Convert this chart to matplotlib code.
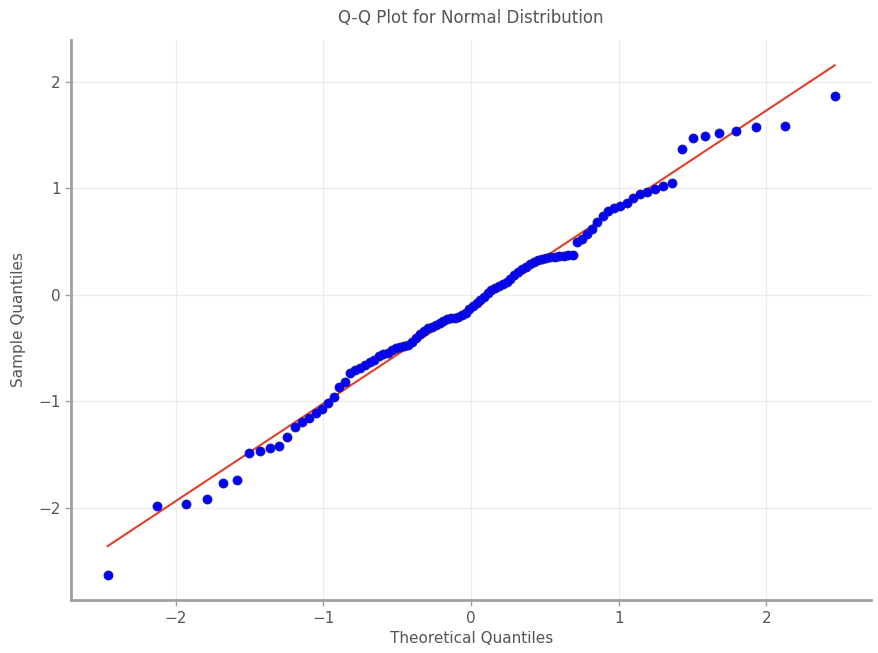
import matplotlib
matplotlib.use("Agg")
import matplotlib.pyplot as plt
import numpy as np
from statistics import NormalDist

# Sorted sample quantiles (n = 100)
sample_quantiles = [
    -2.63, -1.99, -1.97, -1.92, -1.77, -1.74, -1.49, -1.47, -1.44, -1.42,
    -1.34, -1.24, -1.20, -1.16, -1.11, -1.07, -1.02, -0.96, -0.87, -0.82,
    -0.74, -0.71, -0.69, -0.66, -0.63, -0.61, -0.58, -0.56, -0.55, -0.52,
    -0.50, -0.49, -0.48, -0.47, -0.45, -0.41, -0.37, -0.34, -0.31, -0.30,
    -0.29, -0.27, -0.25, -0.23, -0.22, -0.22, -0.21, -0.19, -0.17, -0.14,
    -0.11, -0.08, -0.05, -0.02, 0.01, 0.04, 0.06, 0.08, 0.10, 0.12,
    0.15, 0.18, 0.21, 0.24, 0.26, 0.29, 0.31, 0.32, 0.33, 0.34,
    0.35, 0.35, 0.36, 0.36, 0.37, 0.37, 0.49, 0.52, 0.57, 0.62,
    0.68, 0.74, 0.78, 0.81, 0.83, 0.86, 0.91, 0.94, 0.96, 0.99,
    1.02, 1.05, 1.37, 1.47, 1.49, 1.52, 1.54, 1.57, 1.58, 1.86,
]

# Fitted reference line
fit_slope = 0.917
fit_intercept = -0.105

title = "Q-Q Plot for Normal Distribution"
xlabel = "Theoretical Quantiles"
ylabel = "Sample Quantiles"
xticks = [-2, -1, 0, 1, 2]
yticks = [-2, -1, 0, 1, 2]

# Theoretical normal quantiles (Filliben plotting positions, as in probplot)
n = len(sample_quantiles)
last = 0.5 ** (1.0 / n)
pos = [(i - 0.3175) / (n + 0.365) for i in range(1, n + 1)]
pos[0] = 1 - last
pos[-1] = last
theoretical = np.array([NormalDist().inv_cdf(p) for p in pos])

fig = plt.figure(figsize=(8.79, 6.53), dpi=100)
ax = fig.add_axes([0.081, 0.081, 0.91, 0.858])

text_color = "#555555"
spine_color = "#a0a0a0"

ax.plot(theoretical, sample_quantiles, "o", color="blue", markersize=6.5,
        markeredgecolor="#1a1a9a", markeredgewidth=0.6, zorder=3)
ax.plot(theoretical, fit_slope * theoretical + fit_intercept, "-",
        color="#e0402a", linewidth=1.5, zorder=2)

ax.set_xticks(xticks)
ax.set_yticks(yticks)
ax.set_xticklabels(["\u22122", "\u22121", "0", "1", "2"])
ax.set_yticklabels(["\u22122", "\u22121", "0", "1", "2"])

ax.grid(True, color="#ececec", linewidth=0.9)
ax.set_axisbelow(True)
for s in ["top", "right"]:
    ax.spines[s].set_visible(False)
for s in ["left", "bottom"]:
    ax.spines[s].set_color(spine_color)
    ax.spines[s].set_linewidth(2.0)
ax.tick_params(colors=text_color, labelsize=11, length=4, width=1,
               color=spine_color)

ax.set_title(title, fontsize=12, color=text_color, pad=12)
ax.set_xlabel(xlabel, fontsize=11, color=text_color, labelpad=4)
ax.set_ylabel(ylabel, fontsize=11, color=text_color, labelpad=9)

fig.savefig("out.png", dpi=100)
